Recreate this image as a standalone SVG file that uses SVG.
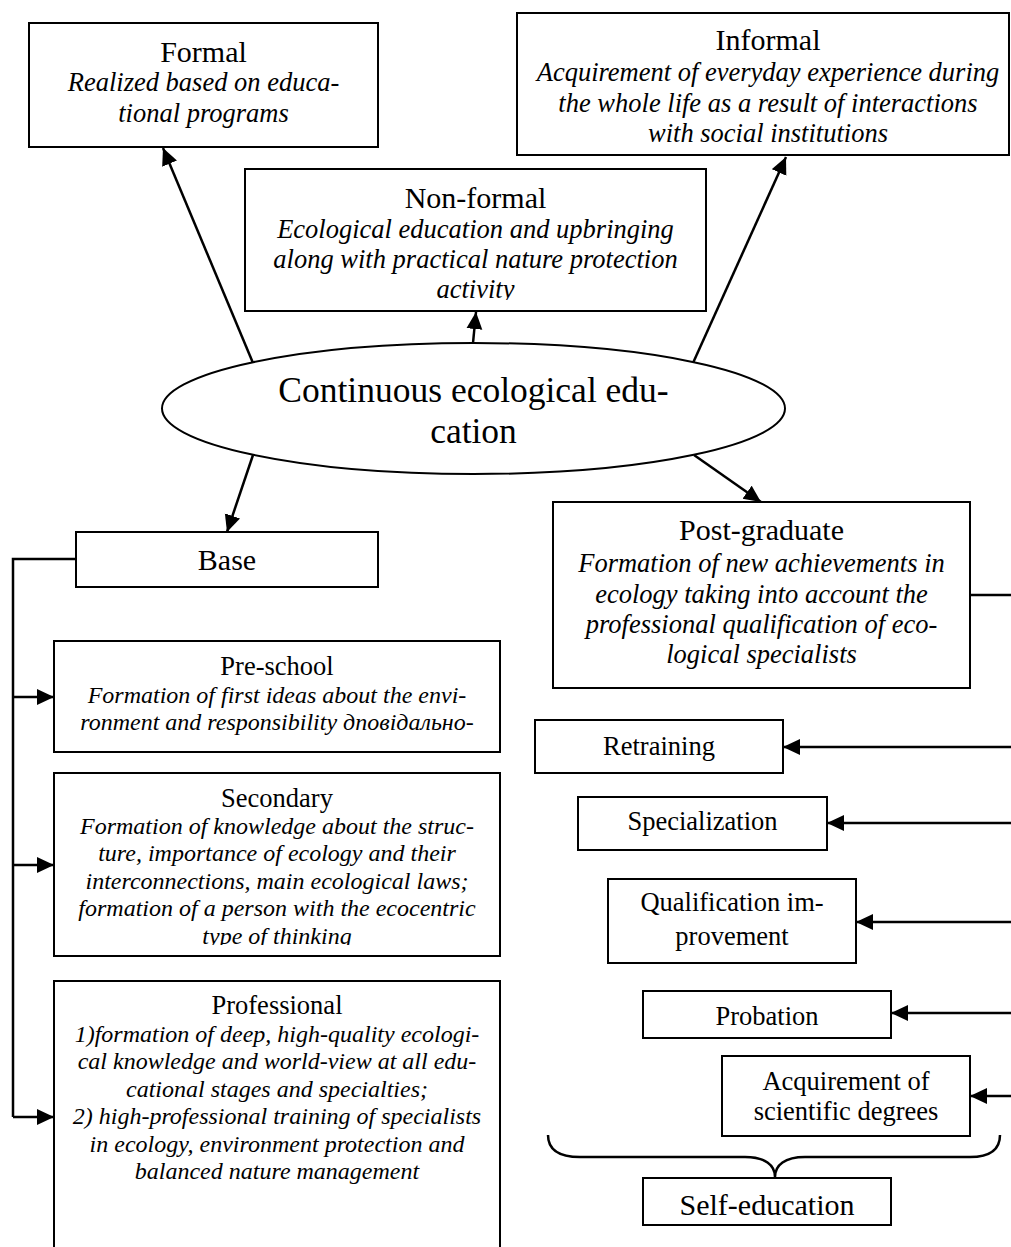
<svg xmlns="http://www.w3.org/2000/svg" width="1011" height="1247" viewBox="0 0 1011 1247">
<style>
  .box { fill: #fff; stroke: #000; stroke-width: 2; }
  .ell { fill: #fff; stroke: #000; stroke-width: 2; }
  .ln { fill: none; stroke: #000; stroke-width: 2.5; }
  .arr { fill: none; stroke: #000; stroke-width: 2.5; marker-end: url(#ah); }
  text { font-family: "Liberation Serif", "Times New Roman", serif; fill: #000; text-anchor: middle; }
  .t30 { font-size: 30px; }
  .t26 { font-size: 26.5px; }
  .i26 { font-size: 26.5px; font-style: italic; }
  .i24 { font-size: 24px; font-style: italic; }
  .big { font-size: 35.5px; }
</style>
<defs>
  <marker id="ah" markerUnits="userSpaceOnUse" markerWidth="19" markerHeight="17" refX="17" refY="8" orient="auto">
    <path d="M0,0 L17,8 L0,16 z" fill="#000"/>
  </marker>
  <clipPath id="clipNF"><rect x="245" y="169" width="461" height="131"/></clipPath>
  <clipPath id="clipSec"><rect x="54" y="773" width="446" height="172"/></clipPath>
</defs>
<rect x="0" y="0" width="1011" height="1247" fill="#fff"/>

<g id="connectors">
  <line class="arr" x1="253" y1="363" x2="163" y2="148"/>
  <line class="arr" x1="473" y1="343" x2="476" y2="312"/>
  <line class="arr" x1="693" y1="363" x2="786" y2="157"/>
  <line class="arr" x1="253" y1="455" x2="227" y2="532"/>
  <line class="arr" x1="694" y1="455" x2="761" y2="502"/>
  <polyline class="ln" points="76,559 13,559 13,1117"/>
  <line class="arr" x1="13" y1="697" x2="54" y2="697"/>
  <line class="arr" x1="13" y1="865" x2="54" y2="865"/>
  <line class="arr" x1="13" y1="1117" x2="54" y2="1117"/>
  <line class="ln" x1="970" y1="595" x2="1011" y2="595"/>
  <line class="arr" x1="1011" y1="747" x2="783" y2="747"/>
  <line class="arr" x1="1011" y1="823" x2="827" y2="823"/>
  <line class="arr" x1="1011" y1="922" x2="856" y2="922"/>
  <line class="arr" x1="1011" y1="1013" x2="891" y2="1013"/>
  <line class="arr" x1="1011" y1="1096" x2="970" y2="1096"/>
  <path class="ln" d="M548,1135 C548,1150 560,1157 580,1157 L745,1157 C765,1157 775,1165 775,1177 C775,1165 785,1157 805,1157 L970,1157 C990,1157 1000,1150 1000,1135"/>
</g>

<g id="formal">
  <rect class="box" x="29" y="23" width="349" height="124"/>
  <text class="t30" x="203.5" y="62">Formal</text>
  <text class="i26" x="203.5" y="91">Realized based on educa-</text>
  <text class="i26" x="203.5" y="122">tional programs</text>
</g>

<g id="informal">
  <rect class="box" x="517" y="13" width="492" height="142"/>
  <text class="t30" x="768" y="50">Informal</text>
  <text class="i26" x="768" y="81">Acquirement of everyday experience during</text>
  <text class="i26" x="768" y="111.5">the whole life as a result of interactions</text>
  <text class="i26" x="768" y="142">with social institutions</text>
</g>

<g id="nonformal">
  <rect class="box" x="245" y="169" width="461" height="142"/>
  <g clip-path="url(#clipNF)">
    <text class="t30" x="475.5" y="208">Non-formal</text>
    <text class="i26" x="475.5" y="238">Ecological education and upbringing</text>
    <text class="i26" x="475.5" y="268">along with practical nature protection</text>
    <text class="i26" x="475.5" y="298">activity</text>
  </g>
</g>

<g id="center">
  <ellipse class="ell" cx="473.5" cy="408.5" rx="311.5" ry="65.5"/>
  <text class="big" x="473.5" y="402">Continuous ecological edu-</text>
  <text class="big" x="473.5" y="443">cation</text>
</g>

<g id="base">
  <rect class="box" x="76" y="532" width="302" height="55"/>
  <text class="t30" x="227" y="570">Base</text>
</g>

<g id="postgraduate">
  <rect class="box" x="553" y="502" width="417" height="186"/>
  <text class="t30" x="761.5" y="540">Post-graduate</text>
  <text class="i26" x="761.5" y="572">Formation of new achievements in</text>
  <text class="i26" x="761.5" y="603">ecology taking into account the</text>
  <text class="i26" x="761.5" y="633">professional qualification of eco-</text>
  <text class="i26" x="761.5" y="663">logical specialists</text>
</g>

<g id="preschool">
  <rect class="box" x="54" y="641" width="446" height="111"/>
  <text class="t26" x="277" y="675">Pre-school</text>
  <text class="i24" x="277" y="702.5">Formation of first ideas about the envi-</text>
  <text class="i24" x="277" y="729.5">ronment and responsibility дповідально-</text>
</g>

<g id="secondary">
  <rect class="box" x="54" y="773" width="446" height="183"/>
  <g clip-path="url(#clipSec)">
    <text class="t26" x="277" y="807">Secondary</text>
    <text class="i24" x="277" y="833.5">Formation of knowledge about the struc-</text>
    <text class="i24" x="277" y="861">ture, importance of ecology and their</text>
    <text class="i24" x="277" y="888.5">interconnections, main ecological laws;</text>
    <text class="i24" x="277" y="916">formation of a person with the ecocentric</text>
    <text class="i24" x="277" y="943.5">type of thinking</text>
  </g>
</g>

<g id="professional">
  <rect class="box" x="54" y="981" width="446" height="290"/>
  <text class="t26" x="277" y="1014">Professional</text>
  <text class="i24" x="277" y="1041.5">1)formation of deep, high-quality ecologi-</text>
  <text class="i24" x="277" y="1069">cal knowledge and world-view at all edu-</text>
  <text class="i24" x="277" y="1096.5">cational stages and specialties;</text>
  <text class="i24" x="277" y="1124">2) high-professional training of specialists</text>
  <text class="i24" x="277" y="1151.5">in ecology, environment protection and</text>
  <text class="i24" x="277" y="1179">balanced nature management</text>
</g>

<g id="retraining">
  <rect class="box" x="535" y="720" width="248" height="53"/>
  <text class="t26" x="659" y="755">Retraining</text>
</g>

<g id="specialization">
  <rect class="box" x="578" y="797" width="249" height="53"/>
  <text class="t26" x="702.5" y="830">Specialization</text>
</g>

<g id="qualification">
  <rect class="box" x="608" y="879" width="248" height="84"/>
  <text class="t26" x="732" y="911">Qualification im-</text>
  <text class="t26" x="732" y="945">provement</text>
</g>

<g id="probation">
  <rect class="box" x="643" y="991" width="248" height="47"/>
  <text class="t26" x="767" y="1025">Probation</text>
</g>

<g id="degrees">
  <rect class="box" x="722" y="1056" width="248" height="80"/>
  <text class="t26" x="846" y="1090">Acquirement of</text>
  <text class="t26" x="846" y="1120">scientific degrees</text>
</g>

<g id="selfeducation">
  <rect class="box" x="643" y="1178" width="248" height="47"/>
  <text class="t30" x="767" y="1215">Self-education</text>
</g>
</svg>
